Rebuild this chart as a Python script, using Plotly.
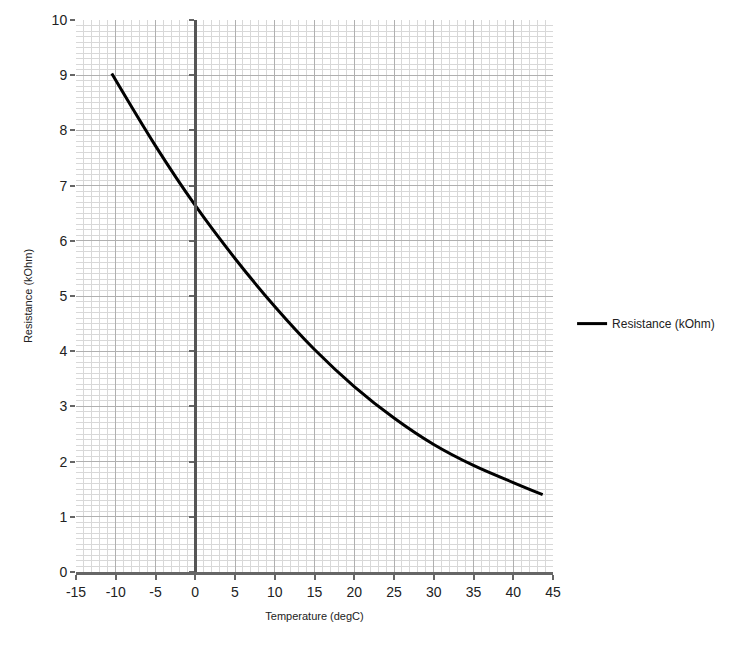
import plotly.graph_objects as go

# thermistor curve
temperature = [-10.5, -5, 0, 5, 10, 15, 20, 25, 30, 35, 40, 43.7]
resistance = [9.03, 7.72, 6.64, 5.68, 4.81, 4.03, 3.36, 2.79, 2.31, 1.93, 1.62, 1.40]

x_ticks = [-15, -10, -5, 0, 5, 10, 15, 20, 25, 30, 35, 40, 45]
x_labels = ["-15", "-10", "-5", "0", "5", "10", "15", "20", "25", "30", "35", "40", "45"]
y_ticks = [0, 1, 2, 3, 4, 5, 6, 7, 8, 9, 10]

fig = go.Figure()
fig.add_trace(go.Scatter(x=temperature, y=resistance, mode="lines",
                         name="Resistance (kOhm)",
                         line=dict(color="black", width=3, shape="spline")))
# empty trace so the axis at x = 0 gets drawn
fig.add_trace(go.Scatter(x=temperature, y=resistance, mode="none", yaxis="y2",
                         showlegend=False, hoverinfo="skip"))

fig.update_layout(
    width=738, height=648,
    margin=dict(l=68, r=193, t=12, b=84),
    paper_bgcolor="white", plot_bgcolor="white",
    font=dict(family="Liberation Sans, Arial, sans-serif", color="#222"),
    showlegend=True,
    legend=dict(x=1.04, y=0.45, yanchor="middle", font=dict(size=12),
                bgcolor="rgba(0,0,0,0)"),
    xaxis=dict(range=[-15, 45], tickvals=x_ticks, ticktext=x_labels,
               automargin=False,
               showgrid=True, gridcolor="#b0b0b0", gridwidth=1,
               minor=dict(dtick=1, tick0=0, showgrid=True, gridcolor="#d8d8d8", gridwidth=1),
               zeroline=False,
               showline=True, linecolor="#666", linewidth=3,
               ticks="outside", ticklen=5, tickwidth=2, tickcolor="#666",
               tickfont=dict(size=14),
               title=dict(text="Temperature (degC)", font=dict(size=11), standoff=14)),
    yaxis=dict(range=[0, 10], tickvals=y_ticks,
               automargin=False,
               showgrid=True, gridcolor="#b0b0b0", gridwidth=1,
               minor=dict(dtick=0.1, tick0=0, showgrid=True, gridcolor="#d8d8d8", gridwidth=1),
               zeroline=False, showline=False,
               ticks="outside", ticklen=5, tickwidth=2, tickcolor="#666",
               tickfont=dict(size=14),
               title=dict(text="Resistance (kOhm)", font=dict(size=11), standoff=16)),
    # axis drawn at x = 0 with its own ticks
    yaxis2=dict(overlaying="y", anchor="free", position=0.25,
                automargin=False,
                range=[0, 10], tickvals=y_ticks, showgrid=False, zeroline=False,
                showline=True, linecolor="#555", linewidth=3,
                ticks="outside", ticklen=5, tickwidth=2, tickcolor="#666",
                showticklabels=False),
)

fig.write_html("out.html")
